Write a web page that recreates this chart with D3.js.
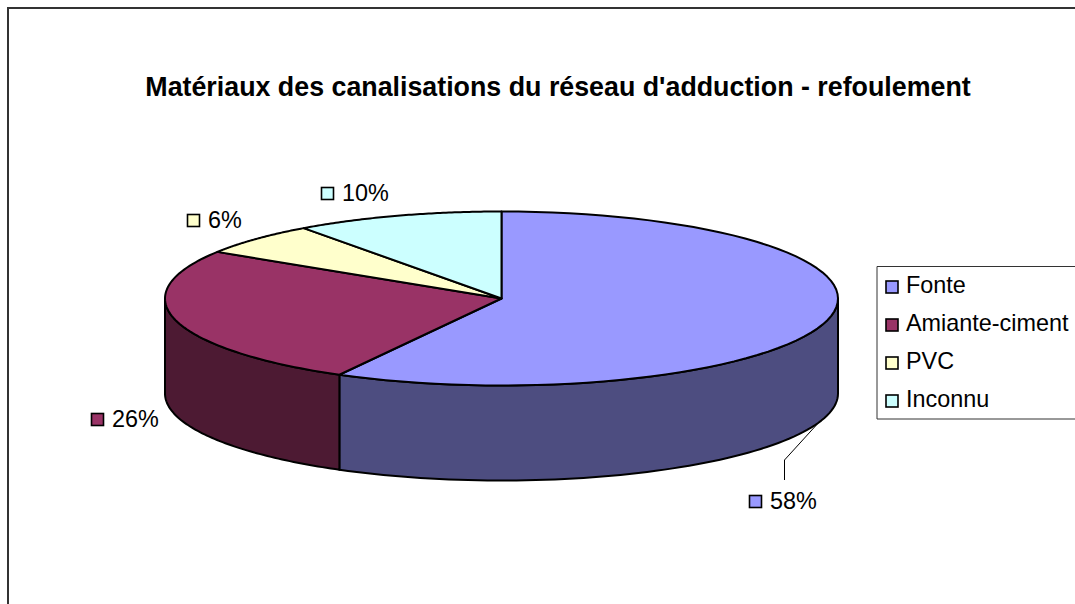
<!DOCTYPE html>
<html><head><meta charset="utf-8">
<script src="https://cdn.jsdelivr.net/npm/d3@7"></script>
<style>html,body{margin:0;padding:0;background:#fff}svg{display:block}text{font-family:"Liberation Sans",Arial,sans-serif;fill:#000}</style>
</head><body><svg id="c" width="1075" height="604"></svg>
<script>
const categories = ["Fonte","Amiante-ciment","PVC","Inconnu"];
const values = [58,26,6,10];
const colors = ["#9999FF","#993366","#FFFFCC","#CCFFFF"];
const sideColors = ["#4D4D80","#4D1A33","#808066","#668080"];
const title = "Matériaux des canalisations du réseau d'adduction - refoulement";

const W=1075,H=604;
const svg=d3.select("#c");
const cx=501.5,cy=298.5,rx=336.5,ry=87,depth=95;
const sx=d3.scaleLinear().domain([-1,1]).range([cx-rx,cx+rx]);
const sy=d3.scaleLinear().domain([-1,1]).range([cy+ry,cy-ry]);
const pt=(a,dz=0)=>[sx(Math.sin(a)),sy(Math.cos(a))+dz];
const pie=d3.pie().sort(null).value(d=>d)(values);
const sampled=(a0,a1,dz)=>d3.range(0,73).map(i=>pt(a0+(a1-a0)*i/72,dz));
const line=d3.line();

// chart frame
svg.append("path").attr("d","M8,604V8H1075").attr("fill","none").attr("stroke","#333").attr("stroke-width",2);
svg.append("text").attr("x",558).attr("y",96).attr("text-anchor","middle")
  .attr("font-size",26.8).attr("font-weight","bold").text(title);

// side walls (front half only)
const front0=Math.PI/2,front1=3*Math.PI/2;
pie.forEach((d,i)=>{
  const a0=Math.max(d.startAngle,front0),a1=Math.min(d.endAngle,front1);
  if(a1<=a0)return;
  const pts=sampled(a0,a1,0).concat(sampled(a1,a0,depth));
  svg.append("path").attr("d",line(pts)+"Z").attr("fill",sideColors[i])
    .attr("stroke","#000").attr("stroke-width",2).attr("stroke-linejoin","round");
});
// top faces
pie.forEach((d,i)=>{
  const pts=[[cx,cy]].concat(sampled(d.startAngle,d.endAngle,0));
  svg.append("path").attr("d",line(pts)+"Z").attr("fill",colors[i])
    .attr("stroke","#000").attr("stroke-width",2).attr("stroke-linejoin","round");
});

// data labels
const labelPos=[[749,495],[91,413],[187,214],[321,187]];
pie.forEach((d,i)=>{
  const [x,y]=labelPos[i];
  svg.append("rect").attr("x",x+.5).attr("y",y+.5).attr("width",12).attr("height",12)
    .attr("fill",colors[i]).attr("stroke","#000").attr("stroke-width",1.6);
  svg.append("text").attr("x",x+21).attr("y",y+14).attr("font-size",23.4).text(values[i]+"%");
});
// leader line of the first label
const lead=pt(d3.mean([pie[0].startAngle,pie[0].endAngle])+0.09,depth);
svg.append("path").attr("d",line([lead,[784.5,460],[784.5,480]])).attr("fill","none").attr("stroke","#000").attr("stroke-width",1);

// legend
svg.append("path").attr("d","M1075,266.5H877V419H1075").attr("fill","#fff").attr("stroke","#333").attr("stroke-width",1);
const ly=d3.scalePoint().domain(categories).range([285,399]);
categories.forEach((c,i)=>{
  svg.append("rect").attr("x",886).attr("y",ly(c)-4).attr("width",12).attr("height",12)
    .attr("fill",colors[i]).attr("stroke","#000").attr("stroke-width",1.6);
  svg.append("text").attr("x",906).attr("y",ly(c)+8).attr("font-size",23.4).text(c);
});
</script></body></html>
